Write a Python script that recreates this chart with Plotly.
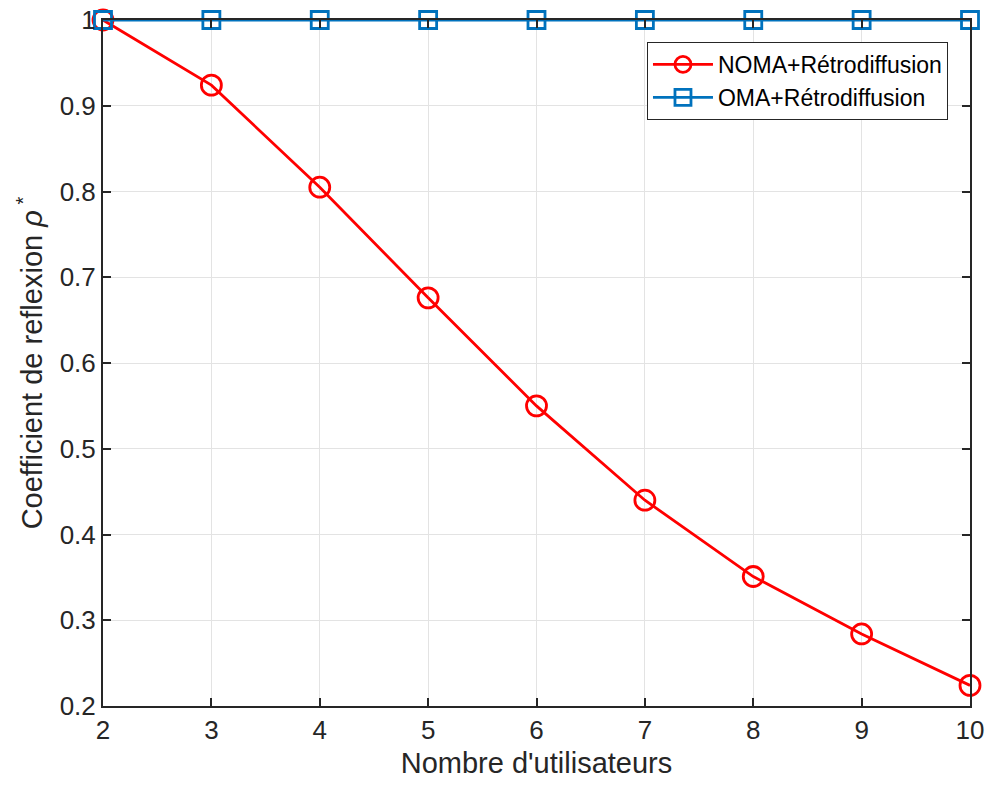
import plotly.graph_objects as go

users = [2, 3, 4, 5, 6, 7, 8, 9, 10]
noma = [1.0, 0.924, 0.805, 0.676, 0.550, 0.440, 0.351, 0.284, 0.224]
oma = [1.0, 1.0, 1.0, 1.0, 1.0, 1.0, 1.0, 1.0, 1.0]
y_ticks = [0.2, 0.3, 0.4, 0.5, 0.6, 0.7, 0.8, 0.9, 1.0]
y_ticklabels = ["0.2", "0.3", "0.4", "0.5", "0.6", "0.7", "0.8", "0.9", "1"]

FONT = "Liberation Sans, Arial, sans-serif"

fig = go.Figure()
fig.add_trace(go.Scatter(
    x=users, y=noma, mode="lines+markers", name="NOMA+Rétrodiffusion",
    line=dict(color="#FF0000", width=2.8),
    marker=dict(symbol="circle-open", size=20, color="#FF0000", line=dict(width=2.8)),
    cliponaxis=False,
))
fig.add_trace(go.Scatter(
    x=users, y=oma, mode="lines+markers", name="OMA+Rétrodiffusion",
    line=dict(color="#0072BD", width=2.8),
    marker=dict(symbol="square-open", size=17, color="#0072BD", line=dict(width=2.8)),
    cliponaxis=False,
))

axis_common = dict(
    showgrid=True, gridcolor="#E3E3E3", gridwidth=1,
    showline=True, linecolor="#262626", linewidth=2, mirror="ticks",
    ticks="inside", ticklen=8, tickwidth=1.5, tickcolor="#262626",
    zeroline=False,
    tickfont=dict(family=FONT, size=26, color="#262626"),
)

fig.update_xaxes(range=[2, 10], tickvals=users, ticktext=[str(u) for u in users],
                 automargin=False,
                 title=dict(text="Nombre d'utilisateurs", standoff=8,
                            font=dict(family=FONT, size=29, color="#262626")),
                 **axis_common)
fig.update_yaxes(range=[0.2, 1.0], tickvals=y_ticks, ticktext=y_ticklabels,
                 automargin=False,
                 title=dict(text="Coefficient de reflexion <i>ρ</i><sup> *</sup>", standoff=8,
                            font=dict(family=FONT, size=29, color="#262626")),
                 **axis_common)

fig.update_layout(
    width=987, height=785,
    margin=dict(l=103, r=17, t=20, b=79),
    plot_bgcolor="white", paper_bgcolor="white",
    legend=dict(x=0.9746, y=0.968, xanchor="right", yanchor="top",
                bgcolor="white", bordercolor="#262626", borderwidth=1,
                font=dict(family=FONT, size=23, color="#000000"),
                itemwidth=60, tracegroupgap=0),
    showlegend=True,
)

fig.write_html("out.html")
